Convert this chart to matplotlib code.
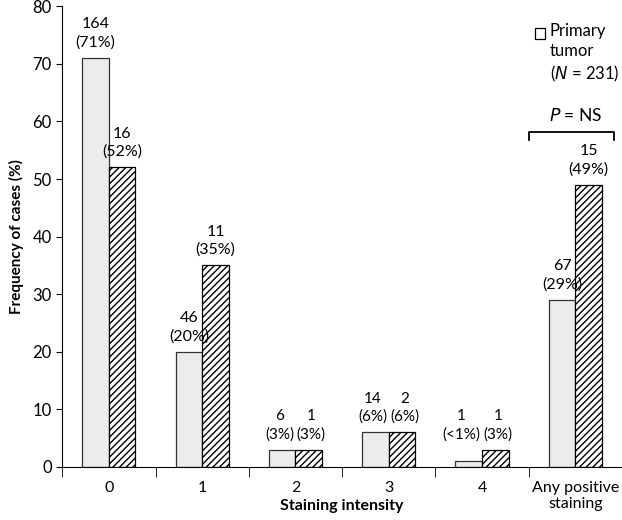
import numpy as np
import matplotlib
matplotlib.use("Agg")
import matplotlib.pyplot as plt
from matplotlib.patches import Rectangle

plt.rcParams['font.family'] = ['Lato', 'DejaVu Sans']
plt.rcParams['hatch.linewidth'] = 1.0

categories = ["0", "1", "2", "3", "4", "Any positive\nstaining"]
primary_pct = [71, 20, 3, 6, 1, 29]
primary_n = [164, 46, 6, 14, 1, 67]
primary_lbl = ["71%", "20%", "3%", "6%", "<1%", "29%"]
second_pct = [52, 35, 3, 6, 3, 49]
second_n = [16, 11, 1, 2, 1, 15]
second_lbl = ["52%", "35%", "3%", "6%", "3%", "49%"]

fig = plt.figure(figsize=(6.22, 5.2), dpi=100)
ax = fig.add_axes([0.100, 0.102, 0.900, 0.886])

x = np.arange(len(categories))
w = 0.285
ax.bar(x - w / 2, primary_pct, w, color="#ececec", edgecolor="#333333", linewidth=0.9)
ax.bar(x + w / 2, second_pct, w, color="white", edgecolor="black", linewidth=0.9,
       hatch="/////")

for i in range(len(x)):
    top = max(primary_pct[i], second_pct[i])
    small = top < 10
    pairs = [(x[i] - w / 2, primary_pct[i], primary_n[i], primary_lbl[i], "right", -1),
             (x[i] + w / 2, second_pct[i], second_n[i], second_lbl[i], "left", 1)]
    for xpos, v, n, lbl, side, dx in pairs:
        if small:
            # labels of the low groups sit side by side, meeting at the group centre
            ax.annotate("%d\n(%s)" % (n, lbl), (x[i], top), xytext=(dx, 6),
                        textcoords="offset points", ha=side, va="bottom",
                        multialignment="center", fontsize=11, linespacing=1.35)
        else:
            ax.annotate("%d\n(%s)" % (n, lbl), (xpos, v), xytext=(0, 6),
                        textcoords="offset points", ha="center", va="bottom",
                        fontsize=11.5, linespacing=1.35)

# P = NS bracket over the last group
bx0, bx1, by = 4.5, 5.41, 58.2
ax.plot([bx0, bx0, bx1, bx1], [by - 1.4, by, by, by - 1.4], color="black", lw=1.3,
        clip_on=False)
ax.text((bx0 + bx1) / 2 + 0.05, by + 1.3, "$\\mathit{P}$ = NS", ha="center", va="bottom",
        fontsize=12.5)

ax.set_xlim(-0.5, len(x) - 0.5)
ax.set_ylim(0, 80)
ax.set_yticks(np.arange(0, 81, 10))
ax.set_xticks(x)
ax.set_xticklabels(categories, fontsize=11.5, linespacing=1.2)
ax.set_xticks(np.arange(-0.5, len(x), 1), minor=True)
ax.tick_params(axis="x", which="major", length=0, pad=10)
ax.tick_params(axis="x", which="minor", length=7, direction="out")
ax.tick_params(axis="y", labelsize=12, length=4, direction="out")
for s in ["top", "right"]:
    ax.spines[s].set_visible(False)

ax.set_xlabel("Staining intensity", fontsize=11.5, fontweight="bold", labelpad=-9)
ax.set_ylabel("Frequency of cases (%)", fontsize=11, fontweight="bold", labelpad=6)

# legend: one empty square for the primary tumour series
ax.add_patch(Rectangle((0.845, 0.928), 0.017, 0.024, transform=ax.transAxes,
                       facecolor="white", edgecolor="black", lw=0.9, clip_on=False))
ax.text(0.871, 0.963, "Primary\ntumor\n($\\mathit{N}$ = 231)", transform=ax.transAxes,
        ha="left", va="top", fontsize=12, linespacing=1.3)

fig.savefig("out.png", dpi=100)
